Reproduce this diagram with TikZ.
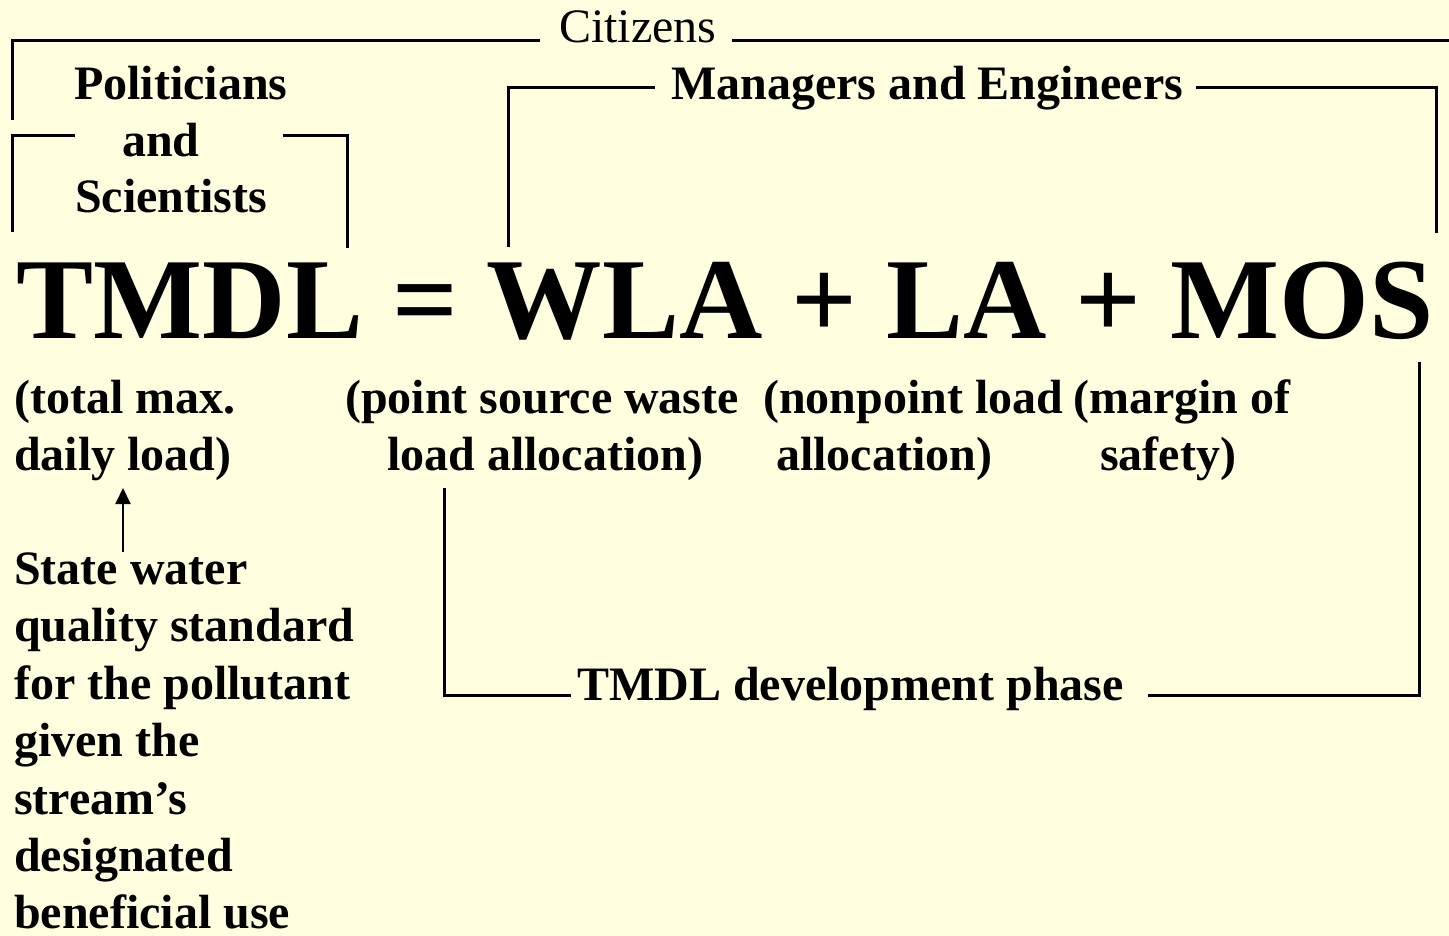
\documentclass[tikz,border=0pt]{standalone}
\usepackage{fontspec}
\setmainfont{Liberation Serif}
\usetikzlibrary{arrows.meta}
\definecolor{bg}{HTML}{FFFFE0}
\tikzset{
  lbl/.style={inner sep=0pt, anchor=base west, font=\fontsize{48}{57}\selectfont\bfseries},
  plain/.style={inner sep=0pt, anchor=base west, font=\fontsize{48}{57}\selectfont},
  big/.style={inner sep=0pt, anchor=base west, font=\fontsize{115.5}{120}\selectfont\bfseries},
  bracket/.style={line width=3pt, line join=miter},
  pointer/.style={line width=2pt, -{Triangle[width=15pt,length=16pt]}},
}
\begin{document}
\begin{tikzpicture}[x=1pt,y=-1pt]
\fill[bg] (0,0) rectangle (1449,936);
\useasboundingbox (0,0) rectangle (1449,936);

% headings
\node[plain] (cit) at (559,43) {Citizens};
\node[lbl] (pol1) at (74,100) {Politicians};
\node[lbl] (pol2) at (122,157) {and};
\node[lbl] (pol3) at (75,213) {Scientists};
\node[lbl] (man) at (671,100) {Managers and Engineers};

% equation
\node[big] (eq) at (16.5,338) {TMDL = WLA + LA + MOS};

% explanations
\node[lbl] (t1) at (14,413) {(total max.};
\node[lbl] (t2) at (14,470) {daily load)};
\node[lbl] (w1) at (345,413) {(point source waste};
\node[lbl] (w2) at (387,470) {load allocation)};
\node[lbl] (n1) at (763,413) {(nonpoint load};
\node[lbl] (n2) at (776,470) {allocation)};
\node[lbl] (m1) at (1073,413) {(margin of};
\node[lbl] (m2) at (1100,470) {safety)};

% state water quality standard
\node[lbl] (s1) at (14,584) {State water};
\node[lbl] (s2) at (14,641.5) {quality standard};
\node[lbl] (s3) at (14,699) {for the pollutant};
\node[lbl] (s4) at (14,756.5) {given the};
\node[lbl] (s5) at (14,814) {stream’s};
\node[lbl] (s6) at (14,871.5) {designated};
\node[lbl] (s7) at (14,928.5) {beneficial use};

\node[lbl] (dev) at (577,700) {TMDL development phase};

% coordinates for brackets
\coordinate (c0) at (12,120);
\coordinate (c1) at (12,40.5);
\coordinate (c2) at (540,40.5);
\coordinate (c3) at (732,40.5);
\coordinate (c4) at (1452,40.5);

\coordinate (p0) at (12,232);
\coordinate (p1) at (12,136);
\coordinate (p2) at (75,136);
\coordinate (p3) at (283,136);
\coordinate (p4) at (347,136);
\coordinate (p5) at (347,248);

\coordinate (g0) at (508,247);
\coordinate (g1) at (508,88);
\coordinate (g2) at (655,88);
\coordinate (g3) at (1196,88);
\coordinate (g4) at (1436,88);
\coordinate (g5) at (1436,233);

\coordinate (d0) at (444,488);
\coordinate (d1) at (444,695);
\coordinate (d2) at (571,695);
\coordinate (d3) at (1148,695);
\coordinate (d4) at (1419,695);
\coordinate (d5) at (1419,362);

\coordinate (a0) at (123,552);
\coordinate (a1) at (123,488);

\draw[bracket] (c0) -- (c1) -- (c2);
\draw[bracket] (c3) -- (c4);
\draw[bracket] (p0) -- (p1) -- (p2);
\draw[bracket] (p3) -- (p4) -- (p5);
\draw[bracket] (g0) -- (g1) -- (g2);
\draw[bracket] (g3) -- (g4) -- (g5);
\draw[bracket] (d0) -- (d1) -- (d2);
\draw[bracket] (d3) -- (d4) -- (d5);
\draw[pointer] (a0) -- (a1);
\end{tikzpicture}
\end{document}
